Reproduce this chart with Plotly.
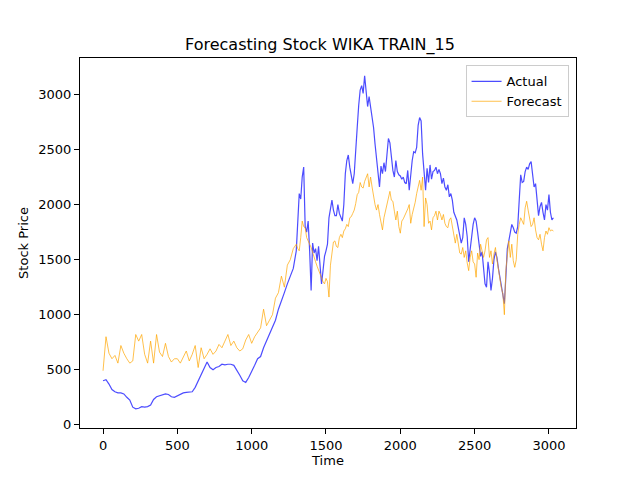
import plotly.graph_objects as go

# time index: coarse readings up to 1280, finer readings afterwards
time_idx = list(range(0, 1300, 20)) + list(range(1300, 3040, 10))

actual = [
    # 0 .. 1280, every 20
    400, 410, 370, 320, 300, 290, 290, 280, 250, 225,
    160, 145, 150, 165, 160, 165, 180, 230, 255, 263,
    270, 280, 275, 255, 250, 265, 280, 290, 295, 300,
    300, 340, 400, 460, 520, 570, 520, 500, 520, 530,
    550, 545, 550, 550, 540, 500, 450, 400, 385, 430,
    480, 540, 600, 620, 700, 760, 830, 880, 950, 1050,
    1120, 1200, 1280, 1350, 1420,
    # 1300 .. 3030, every 10
    1580, 1850, 2100, 2050, 2250, 2340, 1800, 1750, 1850, 1580,
    1220, 1650, 1560, 1600, 1490, 1620, 1450, 1280, 1400, 1530,
    1580, 1640, 1880, 1980, 2040, 1950, 1900, 1900, 2000, 1920,
    1880, 1850, 2000, 2280, 2400, 2450, 2340, 2250, 2190, 2280,
    2450, 2700, 2900, 3040, 3080, 3010, 3170, 3000, 2890, 2980,
    2900, 2800, 2700, 2550, 2400, 2310, 2160, 2350, 2280, 2380,
    2300, 2450, 2600, 2560, 2400, 2310, 2250, 2400, 2300, 2270,
    2260, 2230, 2250, 2200, 2190, 2310, 2130, 2280, 2400, 2480,
    2470, 2520, 2720, 2790, 2760, 2460, 2260, 2130, 2330, 2200,
    2360, 2230, 2300, 2310, 2340, 2280, 2320, 2280, 2190, 2240,
    2160, 2130, 2180, 2070, 2100, 2040, 1930, 1890, 1860, 1790,
    1720, 1650, 1700, 1880, 1820, 1710, 1480, 1600, 1720, 1820,
    1880, 1850, 1750, 1640, 1530, 1570, 1400, 1280, 1250, 1480,
    1380, 1220, 1330, 1500, 1570, 1520, 1420, 1340, 1250, 1150,
    1100, 1340, 1600, 1670, 1760, 1820, 1790, 1750, 1740, 1800,
    2040, 2270, 2200, 2210, 2300, 2340, 2320, 2370, 2390, 2250,
    2160, 2190, 2030, 1900, 1980, 2020, 1930, 1860, 2000, 1950,
    2090, 1930, 1860, 1880,
]

forecast = [
    # 0 .. 1280, every 20
    491, 800, 650, 600, 630, 560, 720, 650, 600, 560,
    580, 820, 760, 820, 640, 560, 760, 560, 820, 660,
    620, 740, 620, 570, 600, 600, 560, 620, 670, 580,
    640, 720, 520, 700, 600, 640, 690, 640, 670, 730,
    700, 760, 820, 720, 760, 700, 670, 690, 770, 820,
    740, 800, 840, 880, 1050, 900, 950, 1000, 1150, 1200,
    1350, 1250, 1450, 1500, 1600,
    # 1300 .. 3030, every 10
    1640, 1600, 1580, 1700, 1850, 1800, 1790, 1700, 1660, 1640,
    1610, 1560, 1520, 1480, 1440, 1400, 1380, 1330, 1300, 1280,
    1330, 1300, 1160, 1450, 1550, 1660, 1670, 1620, 1610, 1700,
    1730, 1700, 1760, 1780, 1820, 1800, 1880, 1890, 1920, 1950,
    2010, 2090, 2110, 2200, 2160, 2150, 2210, 2250, 2280, 2160,
    2250, 2160, 2060, 2000, 1950, 2000, 1910, 1850, 1770, 1880,
    1940, 1970, 2050, 2120, 2040, 2030, 1940, 1860, 1940, 1800,
    1740, 1850, 1870, 1900, 1920, 1960, 2000, 1830, 1910, 1960,
    2020, 2100, 2160, 2220, 2130, 2250, 1800, 2060, 2000, 1830,
    1850, 1770, 1880, 1900, 1940, 1860, 1940, 1910, 1860, 1910,
    1830, 1800, 1790, 1860, 1880, 1800, 1710, 1650, 1730, 1650,
    1560, 1550, 1610, 1520, 1580, 1470, 1400, 1520, 1580, 1480,
    1460, 1340, 1560, 1500, 1640, 1580, 1520, 1580, 1680, 1700,
    1520, 1580, 1460, 1550, 1610, 1500, 1400, 1340, 1240, 1190,
    1000, 1400, 1580, 1670, 1520, 1640, 1490, 1430, 1500, 1730,
    1820, 1880, 1850, 1820, 1970, 2030, 1950, 1880, 1800, 1820,
    1880, 1770, 1700, 1680, 1730, 1640, 1580, 1700, 1760, 1730,
    1790, 1760, 1770, 1760,
]

fig = go.Figure()
fig.add_trace(go.Scatter(x=time_idx, y=actual, mode="lines", name="Actual",
                         line=dict(color="rgba(0,0,255,0.7)", width=1.2)))
fig.add_trace(go.Scatter(x=time_idx, y=forecast, mode="lines", name="Forecast",
                         line=dict(color="rgba(255,165,0,0.7)", width=1)))

axis_common = dict(showgrid=False, zeroline=False, showline=True, linecolor="black",
                   linewidth=1, mirror=True, ticks="outside", ticklen=5,
                   tickcolor="black", tickfont=dict(size=13, color="black"),
                   automargin=False)

# the page body adds an 8px offset, so margins are shifted by 8
fig.update_layout(
    width=640, height=480,
    paper_bgcolor="white", plot_bgcolor="white",
    font=dict(family="DejaVu Sans", color="black"),
    margin=dict(l=72, r=72, t=50, b=60),
    title=dict(text="Forecasting Stock WIKA TRAIN_15", x=(320 - 8) / 640, xanchor="center",
               y=1 - 36 / 480, yanchor="middle", font=dict(size=16)),
    xaxis=dict(range=[-155, 3182], tickvals=[0, 500, 1000, 1500, 2000, 2500, 3000],
               title=dict(text="Time", font=dict(size=13), standoff=4), **axis_common),
    yaxis=dict(range=[-29, 3331], tickvals=[0, 500, 1000, 1500, 2000, 2500, 3000],
               title=dict(text="Stock Price", font=dict(size=13), standoff=6), **axis_common),
    legend=dict(x=0.985, y=0.98, xanchor="right", yanchor="top",
                bgcolor="rgba(255,255,255,0.8)", bordercolor="#cccccc", borderwidth=1,
                font=dict(size=13), itemwidth=30, tracegroupgap=0),
    showlegend=True,
)

fig.write_html("out.html")
